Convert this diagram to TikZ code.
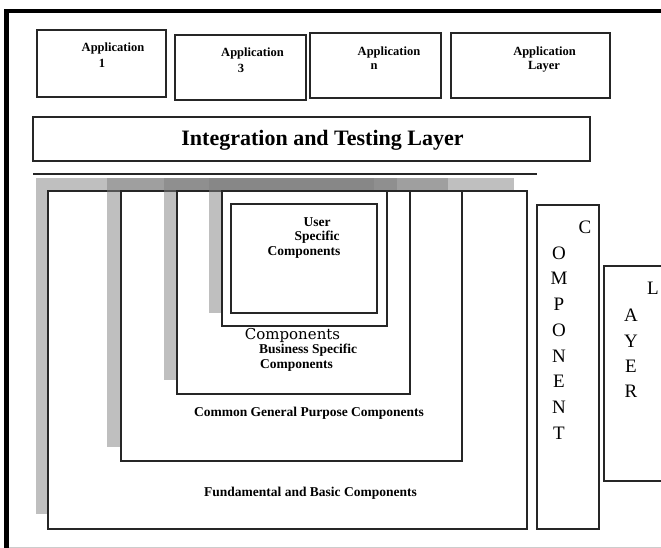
\documentclass[tikz,border=0pt]{standalone}
\usepackage{fontspec}
\setmainfont{Liberation Serif}
\newfontfamily\wideserif{DejaVu Serif}
\begin{document}
\begin{tikzpicture}[x=1pt,y=-1pt,
  box/.style={draw=black!85, line width=1.3pt, fill=white, inner sep=0pt,
              outer sep=0pt, anchor=north west},
  shadowfill/.style={fill=black!50, fill opacity=0.5},
  lbl/.style={font=\fontsize{13.5}{15}\selectfont\bfseries, inner sep=0pt},
  applbl/.style={font=\fontsize{12.5}{14}\selectfont\bfseries, inner sep=0pt},
  vlet/.style={font=\fontsize{19}{22}\selectfont, inner sep=0pt},
]
\useasboundingbox (0,0) rectangle (661,548);
\clip (0,0) rectangle (661,548);

% page frame
\draw[line width=4.5pt] (6.5,548) -- (6.5,11) -- (661,11);
\draw[black!20, line width=1pt] (9,547) -- (661,547);

% application layer
\node[box, minimum width=129pt, minimum height=67pt] (app1) at (37,30) {};
\node[box, minimum width=131pt, minimum height=65pt] (app3) at (175,35) {};
\node[box, minimum width=131pt, minimum height=65pt] (appn) at (310,33) {};
\node[box, minimum width=159pt, minimum height=65pt] (applayer) at (451,33) {};
\node[applbl] (t1a) at (113,48) {Application};
\node[applbl] (t1b) at (102,63) {1};
\node[applbl] (t3a) at (252.5,53) {Application};
\node[applbl] (t3b) at (241,68) {3};
\node[applbl] (tna) at (389,52) {Application};
\node[applbl] (tnb) at (374,67) {n};
\node[applbl] (tla) at (544.5,52) {Application};
\node[applbl] (tlb) at (544,67) {Layer};

% integration layer
\node[box, minimum width=557pt, minimum height=44pt] (integ) at (33,117) {};
\node[font=\fontsize{22}{26}\selectfont\bfseries, inner sep=0pt] (integt) at (322.5,140) {Integration and Testing Layer};
\coordinate (sepL) at (33,174);
\coordinate (sepR) at (537,174);
\draw[black!85, line width=1.3pt] (sepL) -- (sepR);

% nested component layers, each with its offset shadow
\fill[shadowfill] (36,178) rectangle (514,514);
\node[box, minimum width=479pt, minimum height=338pt] (fund) at (48,191) {};
\fill[shadowfill] (107,178) rectangle (448,447);
\node[box, minimum width=341pt, minimum height=270pt] (common) at (121,191) {};
\fill[shadowfill] (164,178) rectangle (397,380);
\node[box, minimum width=233pt, minimum height=203pt] (business) at (177,191) {};
\fill[shadowfill] (209,178) rectangle (374,313);
\node[box, minimum width=165pt, minimum height=135pt] (comp) at (222,191) {};
\node[box, minimum width=146pt, minimum height=109pt] (user) at (231,204) {};

\node[lbl] (u1) at (317,222) {User};
\node[lbl] (u2) at (317,237) {Specific};
\node[lbl] (u3) at (304,252) {Components};
\node[font=\wideserif\fontsize{15}{18}\selectfont, inner sep=0pt] (compt) at (292.5,335) {Components};
\node[lbl, anchor=west] (b1) at (259,350) {Business Specific};
\node[lbl, anchor=west] (b2) at (260,365) {Components};
\node[lbl] (cgp) at (309,413) {Common General Purpose Components};
\node[lbl] (fb) at (310.5,493) {Fundamental and Basic Components};

% vertical side labels
\node[box, minimum width=62pt, minimum height=324pt] (compbox) at (537,205) {};
\node[vlet] (c0) at (585,227) {C};
\foreach \ch [count=\i from 0] in {O,M,P,O,N,E,N,T}
  \node[vlet] (c\i x) at (559,253+25.7*\i) {\ch};

\node[box, minimum width=80pt, minimum height=215pt] (layerbox) at (604,266) {};
\node[vlet] (l0) at (653,288) {L};
\foreach \ch [count=\i from 0] in {A,Y,E,R}
  \node[vlet] (l\i x) at (631,315.5+25.3*\i) {\ch};
\end{tikzpicture}
\end{document}
